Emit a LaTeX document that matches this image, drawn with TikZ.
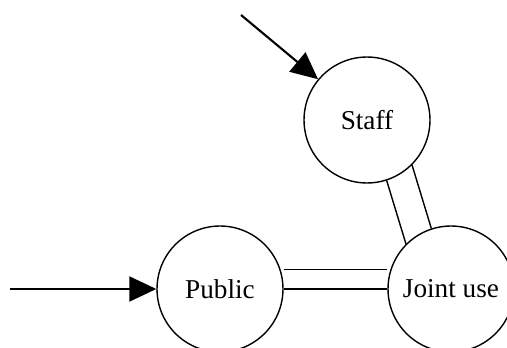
\documentclass[tikz,border=0pt]{standalone}
\usepackage{fontspec}
\setmainfont{Liberation Serif}
\usetikzlibrary{arrows.meta}

\begin{document}
\begin{tikzpicture}[
  x=0.02cm, y=-0.02cm,
  >={Triangle[length=0.54cm, width=0.5cm]},
  state/.style={circle, draw, line width=0.8pt, minimum size=2.52cm, inner sep=0pt,
    font=\fontsize{15.5}{18}\selectfont},
  entry/.style={->, line width=1.2pt},
  link/.style={line width=0.8pt},
]
  \useasboundingbox (0,0) rectangle (507,348);
  \clip (0,0) rectangle (507,348);

  % States
  \node[state] (staff) at (367,120) {Staff};
  \node[state] (public) at (220,289) {Public};
  \node[state] (joint) at (451,289) {Joint use};

  % Entry arrows
  \coordinate (staffin) at (241,15);
  \coordinate (publicin) at (10,289);
  \draw[entry] (staffin) -- (staff);
  \draw[entry] (publicin) -- (public);

  % Double links
  \draw[link] (public) -- (joint);
  \draw[link] (public.east |- public.18) -- (joint.west |- public.18);
  \draw[link] (staff.-72) -- (joint.135);
  \draw[link] (staff.-45) -- (joint.108);
\end{tikzpicture}
\end{document}
